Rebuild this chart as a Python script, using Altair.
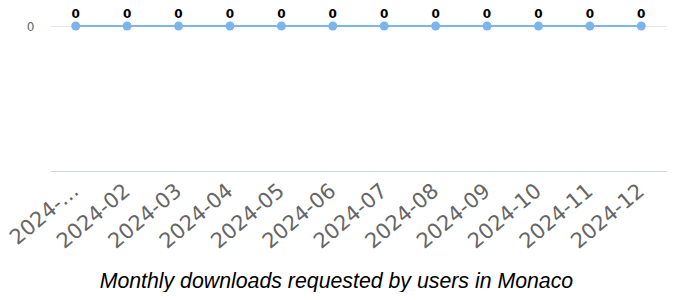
import altair as alt
import pandas as pd

months = ["2024-01", "2024-02", "2024-03", "2024-04", "2024-05", "2024-06",
          "2024-07", "2024-08", "2024-09", "2024-10", "2024-11", "2024-12"]
downloads = [0, 0, 0, 0, 0, 0, 0, 0, 0, 0, 0, 0]

df = pd.DataFrame({"month": months, "downloads": downloads})

x = alt.X("month:O", sort=months, title=None,
          scale=alt.Scale(type="point", padding=0.5),
          axis=alt.Axis(labelAngle=-40, labelFontSize=21, labelFont="DejaVu Sans",
                        labelColor="#666666", labelAlign="right", labelBaseline="middle",
                        labelPadding=17, ticks=False, domainColor="#c8d7ea", grid=False,
                        labelOverlap=False,
                        labelExpr="datum.value == '2024-01' ? '2024-…' : datum.label"))
y = alt.Y("downloads:Q", title=None,
          scale=alt.Scale(domain=[-1, 0], nice=False, zero=False),
          axis=alt.Axis(values=[0], domain=False, ticks=False, grid=True, gridColor="#e6e6e6",
                        labelColor="#666666", labelFontSize=12, labelFont="DejaVu Sans",
                        labelPadding=16))

base = alt.Chart(df).encode(x=x, y=y)
line = base.mark_line(color="#7cb5ec", strokeWidth=2)
pts = base.mark_point(filled=True, size=80, color="#7cb5ec", opacity=1)
txt = base.mark_text(dy=-12, fontWeight="bold", fontSize=12, font="DejaVu Sans",
                     color="#000000").encode(text="downloads:Q")

chart = (line + pts + txt).properties(
    width=617, height=145,
    autosize=alt.AutoSizeParams(type="none"),
    padding={"left": 42, "top": 18, "right": 0, "bottom": 121},
    title=alt.TitleParams("Monthly downloads requested by users in Monaco", orient="bottom",
                          anchor="middle", frame="bounds",
                          fontStyle="italic", fontWeight="normal", fontSize=21.3,
                          font="Liberation Sans", color="#000000", offset=19),
).configure_view(stroke=None)

chart.save("out.html", embed_options={"renderer": "svg", "actions": False})
